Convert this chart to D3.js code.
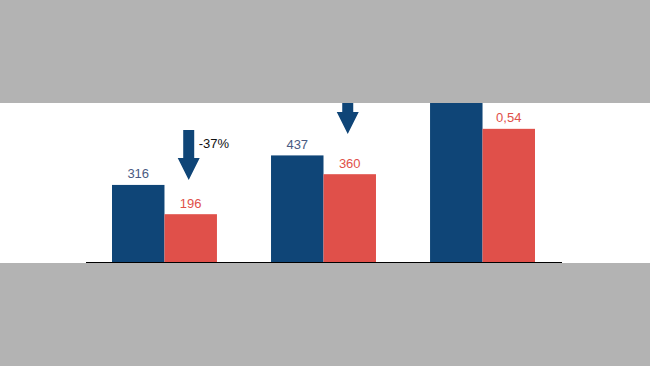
<!DOCTYPE html>
<html><head><meta charset="utf-8">
<script src="https://cdn.jsdelivr.net/npm/d3@7"></script>
<style>html,body{margin:0;padding:0;background:#b3b3b3;}svg{display:block;}</style>
</head><body>
<script>
const categories = ["A", "B", "C"];
const seriesA = [316, 437, 800];
const seriesB = [196, 360, 546];
const labelsA = ["316", "437", ""];
const labelsB = ["196", "360", "0,54"];
// arrows: category, start value, end value (tip), text
const arrowCats = ["A", "B"];
const arrowFrom = [541, 760];
const arrowTo = [336, 525];
const arrowText = ["-37%", ""];

const W = 650, H = 366;
const bandTop = 103, bandBottom = 263;
const svg = d3.select("body").append("svg").attr("width", W).attr("height", H);
svg.append("rect").attr("width", W).attr("height", H).attr("fill", "#b3b3b3");
svg.append("rect").attr("x", 0).attr("y", bandTop).attr("width", W).attr("height", bandBottom - bandTop).attr("fill", "#ffffff");
svg.append("clipPath").attr("id", "clip").append("rect")
  .attr("x", 0).attr("y", bandTop).attr("width", W).attr("height", bandBottom - bandTop);

const g = svg.append("g").attr("clip-path", "url(#clip)");

const x0 = d3.scaleBand().domain(categories).range([86, 561]).paddingInner(0.34).paddingOuter(0.1635);
const x1 = d3.scaleBand().domain(["a", "b"]).range([0, x0.bandwidth()]).padding(0);
const y = d3.scaleLinear().domain([0, 656]).range([262, 102]);

const blue = "#0f4577", red = "#e0504a";

categories.forEach((c, i) => {
  g.append("rect").attr("x", x0(c) + x1("a")).attr("y", y(seriesA[i]))
    .attr("width", x1.bandwidth()).attr("height", y(0) - y(seriesA[i])).attr("fill", blue);
  g.append("rect").attr("x", x0(c) + x1("b")).attr("y", y(seriesB[i]))
    .attr("width", x1.bandwidth()).attr("height", y(0) - y(seriesB[i])).attr("fill", red);
  g.append("text").attr("x", x0(c) + x1("a") + x1.bandwidth() / 2).attr("y", y(seriesA[i]) - 6.5)
    .attr("text-anchor", "middle").attr("font-family", "Liberation Sans, Arial, sans-serif")
    .attr("font-size", 13).attr("fill", "#4a5a82").text(labelsA[i]);
  g.append("text").attr("x", x0(c) + x1("b") + x1.bandwidth() / 2).attr("y", y(seriesB[i]) - 6.5)
    .attr("text-anchor", "middle").attr("font-family", "Liberation Sans, Arial, sans-serif")
    .attr("font-size", 13).attr("fill", "#e0504a").text(labelsB[i]);
});

// axis line
g.append("line").attr("x1", 86).attr("x2", 562).attr("y1", y(0) + 0.5).attr("y2", y(0) + 0.5)
  .attr("stroke", "#000").attr("stroke-width", 1.2);

// arrows
arrowCats.forEach((c, i) => {
  const cx = x0(c) + x1("b") + x1.bandwidth() / 2 - 2;
  const top = y(arrowFrom[i]), tip = y(arrowTo[i]);
  const headH = 22, shaftW = 11, headW = 22;
  const path = d3.path();
  path.moveTo(cx - shaftW / 2, top);
  path.lineTo(cx + shaftW / 2, top);
  path.lineTo(cx + shaftW / 2, tip - headH);
  path.lineTo(cx + headW / 2, tip - headH);
  path.lineTo(cx, tip);
  path.lineTo(cx - headW / 2, tip - headH);
  path.lineTo(cx - shaftW / 2, tip - headH);
  path.closePath();
  g.append("path").attr("d", path.toString()).attr("fill", blue);
  if (arrowText[i]) {
    g.append("text").attr("x", cx + 10).attr("y", top + 18)
      .attr("font-family", "Liberation Sans, Arial, sans-serif").attr("font-size", 13)
      .attr("fill", "#111").text(arrowText[i]);
  }
});
</script>
</body></html>
